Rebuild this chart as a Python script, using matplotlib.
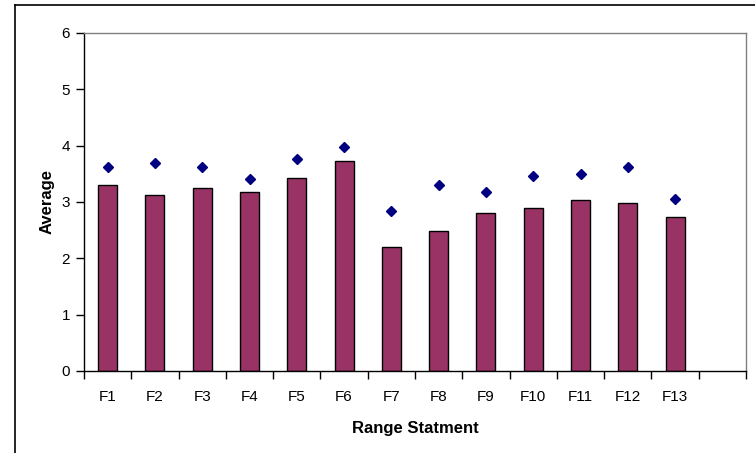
import matplotlib
matplotlib.use("Agg")
import matplotlib.pyplot as plt
from matplotlib.lines import Line2D
import numpy as np

categories = ["F1", "F2", "F3", "F4", "F5", "F6", "F7", "F8", "F9", "F10", "F11", "F12", "F13"]
bar_values = [3.31, 3.13, 3.24, 3.17, 3.42, 3.72, 2.20, 2.48, 2.81, 2.90, 3.03, 2.98, 2.73]
point_values = [3.63, 3.69, 3.63, 3.40, 3.77, 3.98, 2.84, 3.31, 3.17, 3.47, 3.49, 3.63, 3.05]
y_ticks = [0, 1, 2, 3, 4, 5, 6]

plt.rcParams['font.family'] = ['Liberation Sans', 'DejaVu Sans']

fig = plt.figure(figsize=(7.55, 4.53), dpi=100)
W, H = 755, 453
ax = fig.add_axes([84 / W, 1 - 371 / H, (746 - 84) / W, (371 - 33) / H])

x = np.arange(len(categories))
ax.bar(x, bar_values, width=0.4, color="#993366", edgecolor="black", linewidth=1, zorder=2)
ax.plot(x, point_values, linestyle="none", marker="D", markersize=5, color="#000080", zorder=3)

n_slots = len(categories) + 1
ax.set_xlim(-0.5, n_slots - 0.5)
ax.set_ylim(0, 6)
ax.set_yticks(y_ticks)
ax.set_xticks(x)
ax.set_xticklabels(categories)
ax.set_xticks(np.arange(-0.5, n_slots, 1.0), minor=True)
ax.tick_params(axis="x", which="major", length=0, pad=14, labelsize=11)
ax.tick_params(axis="x", which="minor", length=6, width=1, direction="out", color="black")
ax.tick_params(axis="y", length=6, width=1, direction="out", pad=4, labelsize=11)

for s in ["left", "bottom"]:
    ax.spines[s].set_color("black")
    ax.spines[s].set_linewidth(1)
for s in ["top", "right"]:
    ax.spines[s].set_color("#808080")
    ax.spines[s].set_linewidth(1)

ax.set_xlabel("Range Statment", fontsize=12, fontweight="bold", labelpad=12)
ax.set_ylabel("Average", fontsize=12, fontweight="bold", labelpad=5)

# outer chart border (left and top visible)
fig.add_artist(Line2D([15.5 / W, 15.5 / W], [0, 1 - 5 / H], transform=fig.transFigure, color="black", lw=1.2))
fig.add_artist(Line2D([15.5 / W, 1], [1 - 5 / H, 1 - 5 / H], transform=fig.transFigure, color="black", lw=1.2))

fig.savefig("out.png", dpi=100)
